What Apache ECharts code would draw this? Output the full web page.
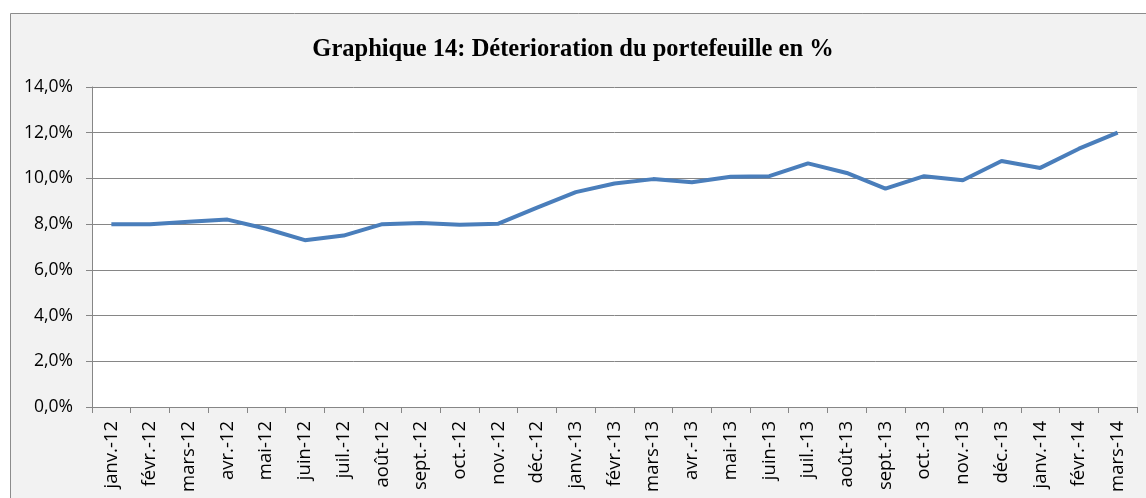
<!DOCTYPE html>
<html>
<head>
<meta charset="utf-8">
<script src="https://cdn.jsdelivr.net/npm/echarts@6/dist/echarts.min.js"></script>
<style>
  html, body { margin: 0; padding: 0; background: #fff; }
  #chart { width: 1146px; height: 498px; }
</style>
</head>
<body>
<div id="chart"></div>
<script>
// months shown on the x axis
const months = ['janv.-12', 'févr.-12', 'mars-12', 'avr.-12', 'mai-12', 'juin-12', 'juil.-12', 'août-12',
  'sept.-12', 'oct.-12', 'nov.-12', 'déc.-12', 'janv.-13', 'févr.-13', 'mars-13', 'avr.-13', 'mai-13',
  'juin-13', 'juil.-13', 'août-13', 'sept.-13', 'oct.-13', 'nov.-13', 'déc.-13', 'janv.-14', 'févr.-14', 'mars-14']
// portfolio deterioration (%)
const deterioration = [8.0, 8.0, 8.1, 8.2, 7.8, 7.3, 7.5, 8.0, 8.05, 7.97, 8.02, 8.72, 9.4, 9.78, 9.97, 9.83, 10.07,
  10.1, 10.66, 10.24, 9.55, 10.1, 9.92, 10.76, 10.46, 11.3, 12.0]
const yTicks = [0, 2, 4, 6, 8, 10, 12, 14]

const chart = echarts.init(document.getElementById('chart'))
const grey = '#868686'
chart.setOption({
  animation: false,
  backgroundColor: '#fff',
  graphic: [{
    type: 'rect',
    z: -10,
    shape: { x: 10.5, y: 13.5, width: 1160, height: 520 },
    style: { fill: '#f2f2f2', stroke: '#8c8c8c', lineWidth: 1 }
  }],
  title: {
    text: 'Graphique 14: Déterioration du portefeuille en %',
    left: 'center',
    top: 32,
    textStyle: { fontFamily: 'Liberation Serif', fontWeight: 'bold', fontSize: 24.5, color: '#000' }
  },
  grid: {
    left: 92, top: 87, right: 9, bottom: 91,
    show: true, backgroundColor: '#fff', borderWidth: 0
  },
  xAxis: {
    type: 'category',
    data: months,
    boundaryGap: true,
    axisLine: { lineStyle: { color: grey, width: 1 } },
    axisTick: { show: true, length: 6, alignWithLabel: false, lineStyle: { color: grey } },
    axisLabel: {
      rotate: 90, interval: 0, margin: 14,
      fontFamily: 'Open Sans', fontSize: 18.5, color: '#000'
    }
  },
  yAxis: {
    type: 'value',
    min: yTicks[0], max: yTicks[yTicks.length - 1], interval: 2,
    axisLine: { show: true, lineStyle: { color: grey, width: 1 } },
    axisTick: { show: true, length: 6, lineStyle: { color: grey } },
    splitLine: { lineStyle: { color: grey, width: 1 } },
    axisLabel: {
      margin: 19,
      fontFamily: 'Open Sans', fontSize: 17.5, color: '#000',
      formatter: v => v.toFixed(1).replace('.', ',') + '%'
    }
  },
  series: [{
    type: 'line',
    data: deterioration,
    showSymbol: false,
    lineStyle: { color: '#4a7ebb', width: 4 },
    itemStyle: { color: '#4a7ebb' }
  }]
})
</script>
</body>
</html>
